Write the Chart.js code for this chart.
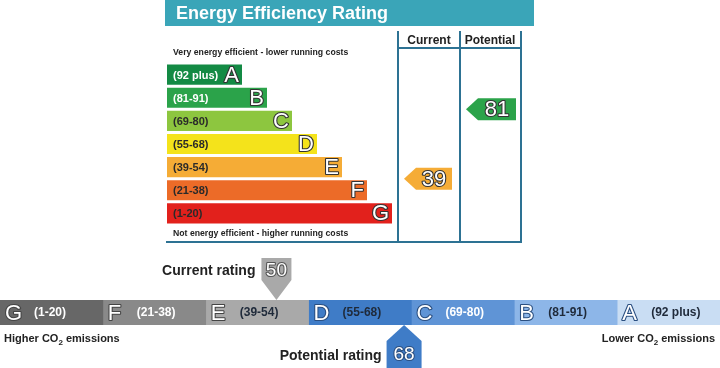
<!DOCTYPE html>
<html>
<head>
<meta charset="utf-8">
<script src="https://cdn.jsdelivr.net/npm/chart.js@4.4.1/dist/chart.umd.min.js"></script>
<style>
  html, body { margin: 0; padding: 0; background: #fff; width: 720px; height: 368px; overflow: hidden; }
  canvas { position: absolute; left: 0; top: 0; }
</style>
</head>
<body>
<canvas id="energy" width="720" height="368"></canvas>
<canvas id="co2" width="720" height="368"></canvas>
<script>
// bands, top (best) to bottom (worst)
const bands = ["A", "B", "C", "D", "E", "F", "G"];
const ranges = ["(92 plus)", "(81-91)", "(69-80)", "(55-68)", "(39-54)", "(21-38)", "(1-20)"];
const lowerBounds = [92, 81, 69, 55, 39, 21, 1];
const barLengths = [3, 4, 5, 6, 7, 8, 9];
const energyColors = ["#138a44", "#2ba34a", "#8dc63f", "#f4e31b", "#f5ac36", "#ec6b28", "#e2211c"];
const energyDarkText = [false, false, true, true, true, true, true];
const energyCurrent = 39;
const energyPotential = 81;

// environmental impact band colours, A..G
const co2Colors = ["#c9ddf3", "#8db6e8", "#5f94d6", "#3f7cc7", "#a9a9a9", "#898989", "#676767"];
const co2DarkText = [true, true, false, true, true, false, false];
const co2Current = 50;
const co2Potential = 68;

const FONT = '"Liberation Sans", Arial, sans-serif';
const LINE = "#2d7293";

function bandIndex(r) {
  for (let i = 0; i < lowerBounds.length; i++) if (r >= lowerBounds[i]) return i;
  return lowerBounds.length - 1;
}
function bandFraction(r) {
  const i = bandIndex(r);
  const lo = lowerBounds[i];
  const hi = i === 0 ? 101 : lowerBounds[i - 1];
  return (r - lo) / (hi - lo);
}

// white glyph with a thin dark outline
function outlined(c, txt, x, y, size, fill, stroke) {
  c.font = size + "px " + FONT;
  c.lineWidth = 2.2;
  c.strokeStyle = stroke;
  c.lineJoin = "round";
  c.strokeText(txt, x, y);
  c.fillStyle = fill;
  c.fillText(txt, x, y);
}

function co2Text(c, txt, x, y, align) {
  // "Higher CO2 emissions" with a subscript 2
  const [a, b] = txt.split("2");
  c.font = "bold 11px " + FONT;
  const wa = c.measureText(a).width;
  const wb = c.measureText(b).width;
  c.font = "bold 8px " + FONT;
  const w2 = c.measureText("2").width;
  const sx = align === "right" ? x - (wa + w2 + wb) : x;
  c.textAlign = "left";
  c.fillStyle = "#222";
  c.font = "bold 11px " + FONT;
  c.fillText(a, sx, y);
  c.font = "bold 8px " + FONT;
  c.fillText("2", sx + wa, y + 3);
  c.font = "bold 11px " + FONT;
  c.fillText(b, sx + wa + w2, y);
}

const energyDecor = {
  id: "energyDecor",
  beforeDatasetsDraw(chart) {
    const c = chart.ctx;
    c.save();
    c.fillStyle = "#3aa5b8";
    c.fillRect(165, 0, 369, 26);
    c.fillStyle = "#fff";
    c.textBaseline = "alphabetic";
    c.font = "bold 18px " + FONT;
    c.fillText("Energy Efficiency Rating", 176, 19);

    c.fillStyle = "#222";
    c.font = "bold 12px " + FONT;
    c.textAlign = "center";
    c.fillText("Current", 429, 44);
    c.fillText("Potential", 490, 44);
    c.textAlign = "left";
    c.font = "bold 8.7px " + FONT;
    c.fillText("Very energy efficient - lower running costs", 173, 55);
    c.fillText("Not energy efficient - higher running costs", 173, 236);

    c.strokeStyle = LINE;
    c.lineWidth = 2;
    c.beginPath();
    [398, 460, 521].forEach(x => { c.moveTo(x, 31); c.lineTo(x, 243); });
    c.moveTo(398, 48); c.lineTo(521, 48);
    c.moveTo(166, 242); c.lineTo(522, 242);
    c.stroke();
    c.restore();
  },
  afterDatasetsDraw(chart) {
    const c = chart.ctx;
    const xs = chart.scales.x, ys = chart.scales.y;
    c.save();
    c.textBaseline = "middle";
    bands.forEach((b, i) => {
      const y = ys.getPixelForValue(i);
      c.textAlign = "left";
      c.font = "bold 11px " + FONT;
      c.fillStyle = energyDarkText[i] ? "#2a2a2a" : "#fff";
      c.fillText(ranges[i], 173, y + 1);
      c.textAlign = "right";
      outlined(c, b, xs.getPixelForValue(barLengths[i]) - 3, y + 1, 22, "#fff", "#333");
    });

    const arrow = (r, tip, right) => {
      const i = bandIndex(r);
      const y = ys.getPixelForValue(i + 0.5 - bandFraction(r));
      const h = 22;
      c.fillStyle = energyColors[i];
      c.beginPath();
      c.moveTo(tip, y);
      c.lineTo(tip + 12, y - h / 2);
      c.lineTo(right, y - h / 2);
      c.lineTo(right, y + h / 2);
      c.lineTo(tip + 12, y + h / 2);
      c.closePath();
      c.fill();
      c.textAlign = "center";
      outlined(c, String(r), (tip + 12 + right) / 2, y + 1, 22, "#fff", "#333");
    };
    arrow(energyCurrent, 404, 452);
    arrow(energyPotential, 466, 516);
    c.restore();
  }
};

new Chart(document.getElementById("energy"), {
  type: "bar",
  data: {
    labels: bands,
    datasets: [{
      data: barLengths,
      backgroundColor: energyColors,
      borderWidth: 0,
      barPercentage: 0.87,
      categoryPercentage: 1
    }]
  },
  options: {
    indexAxis: "y",
    responsive: false,
    animation: false,
    events: [],
    layout: { padding: { left: 167, right: 328, top: 63, bottom: 143 } },
    scales: {
      x: { display: false, min: 0, max: 9 },
      y: { display: false }
    },
    plugins: { legend: { display: false }, tooltip: { enabled: false } }
  },
  plugins: [energyDecor]
});

// bottom band, worst (G) on the left
const co2Order = bands.map((b, i) => i).reverse();

const co2Decor = {
  id: "co2Decor",
  afterDatasetsDraw(chart) {
    const c = chart.ctx;
    const xs = chart.scales.x;
    const area = chart.chartArea;
    const cy = (area.top + area.bottom) / 2;
    c.save();
    c.textBaseline = "middle";
    co2Order.forEach((bi, k) => {
      const x0 = xs.getPixelForValue(k);
      c.textAlign = "left";
      outlined(c, bands[bi], x0 + 5, cy + 1, 22, "#fff", bi <= 3 ? "#2b4f80" : "#444");
      c.font = "bold 12px " + FONT;
      c.fillStyle = co2DarkText[bi] ? "#1f2a3a" : "#fff";
      c.fillText(ranges[bi], x0 + 34, cy);
    });

    const posOf = r => (6 - bandIndex(r)) + bandFraction(r);

    // current rating marker, pointing down onto the band
    let x = xs.getPixelForValue(posOf(co2Current));
    let w = 30;
    c.fillStyle = co2Colors[bandIndex(co2Current)];
    c.beginPath();
    c.moveTo(x - w / 2, 258);
    c.lineTo(x + w / 2, 258);
    c.lineTo(x + w / 2, 280);
    c.lineTo(x, area.top);
    c.lineTo(x - w / 2, 280);
    c.closePath();
    c.fill();
    c.textAlign = "center";
    outlined(c, String(co2Current), x, 271, 19, "#fff", "#555");
    c.textAlign = "right";
    c.fillStyle = "#222";
    c.font = "bold 14px " + FONT;
    c.fillText("Current rating", x - w / 2 - 6, 271);

    // potential rating marker, pointing up onto the band
    x = xs.getPixelForValue(posOf(co2Potential));
    w = 35;
    c.fillStyle = co2Colors[bandIndex(co2Potential)];
    c.beginPath();
    c.moveTo(x, area.bottom);
    c.lineTo(x + w / 2, 341);
    c.lineTo(x + w / 2, 368);
    c.lineTo(x - w / 2, 368);
    c.lineTo(x - w / 2, 341);
    c.closePath();
    c.fill();
    c.textAlign = "center";
    outlined(c, String(co2Potential), x, 355, 19, "#fff", "#2b4f80");
    c.textAlign = "right";
    c.fillStyle = "#222";
    c.font = "bold 14px " + FONT;
    c.fillText("Potential rating", x - w / 2 - 5, 356);

    c.textBaseline = "alphabetic";
    co2Text(c, "Higher CO2 emissions", 4, 342, "left");
    co2Text(c, "Lower CO2 emissions", 715, 342, "right");
    c.restore();
  }
};

new Chart(document.getElementById("co2"), {
  type: "bar",
  data: {
    labels: ["co2"],
    datasets: co2Order.map(bi => ({
      label: bands[bi],
      data: [1],
      backgroundColor: co2Colors[bi],
      borderWidth: 0,
      barPercentage: 1,
      categoryPercentage: 1
    }))
  },
  options: {
    indexAxis: "y",
    responsive: false,
    animation: false,
    events: [],
    layout: { padding: { left: 0, right: 0, top: 300, bottom: 43 } },
    scales: {
      x: { display: false, stacked: true, min: 0, max: 7 },
      y: { display: false, stacked: true }
    },
    plugins: { legend: { display: false }, tooltip: { enabled: false } }
  },
  plugins: [co2Decor]
});
</script>
</body>
</html>
